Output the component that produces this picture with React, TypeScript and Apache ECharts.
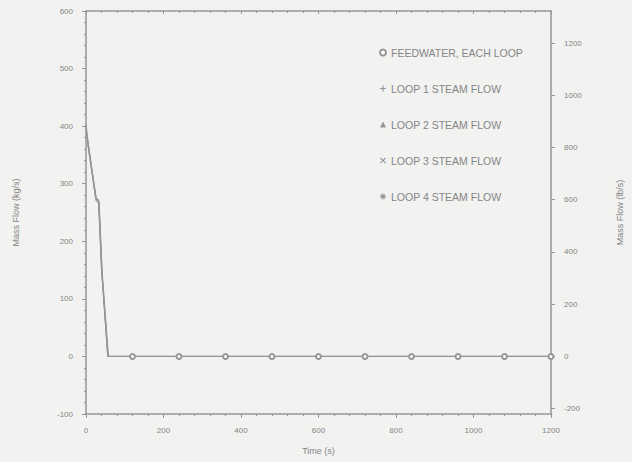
import React, { useEffect, useRef } from "react";
import * as echarts from "echarts";

// ---- data ----
const xTicks = [0, 200, 400, 600, 800, 1000, 1200];
const leftTicks = [-100, 0, 100, 200, 300, 400, 500, 600];
const rightTicks = [-200, 0, 200, 400, 600, 800, 1000, 1200];

const legendNames = [
  "FEEDWATER, EACH LOOP",
  "LOOP 1 STEAM FLOW",
  "LOOP 2 STEAM FLOW",
  "LOOP 3 STEAM FLOW",
  "LOOP 4 STEAM FLOW",
];

const feedTime = [0, 5, 25, 33, 41, 56, 120, 240, 360, 480, 600, 720, 840, 960, 1080, 1200];
const feedFlow = [400, 365, 275, 272, 150, 0, 0, 0, 0, 0, 0, 0, 0, 0, 0, 0];

const loop1Time = [0, 3, 12, 26, 33, 40, 57, 1200];
const loop1Flow = [405, 385, 340, 276, 270, 152, 0, 0];
const loop2Time = [0, 4, 14, 27, 34, 42, 58, 1200];
const loop2Flow = [398, 378, 330, 272, 268, 145, 0, 0];
const loop3Time = [0, 4, 13, 26, 33, 41, 57, 1200];
const loop3Flow = [395, 372, 332, 270, 266, 148, 0, 0];
const loop4Time = [0, 3, 13, 25, 32, 40, 56, 1200];
const loop4Flow = [402, 380, 336, 274, 269, 150, 0, 0];

const KG_TO_LB = 2.20462;

const GRAY = "#858585";
const LINE = "#969696";
const FONT = "Liberation Sans";

const plus = "path://M3.2,0h1.6v8h-1.6z M0,3.2h8v1.6h-8z";
const cross = "path://M0,1.1L1.1,0L4,2.9L6.9,0L8,1.1L5.1,4L8,6.9L6.9,8L4,5.1L1.1,8L0,6.9L2.9,4z";
const star = "path://M3.3,0h1.4v8h-1.4z M0,3.3h8v1.4h-8z M0.6,1.6L1.6,0.6L7.4,6.4L6.4,7.4z M6.4,0.6L7.4,1.6L1.6,7.4L0.6,6.4z";
const icons = ["emptyCircle", plus, "triangle", cross, star];

export default function App() {
  const ref = useRef<HTMLDivElement>(null);
  useEffect(() => {
    const chart = echarts.init(ref.current!, undefined, { renderer: "svg" });
    const zip = (ts: number[], vs: number[]) => ts.map((t, i) => [t, vs[i]]);
    const feedData = feedTime.map((t, i) => ({
      value: [t, feedFlow[i]],
      symbol: t >= 120 ? "emptyCircle" : "none",
    }));
    const loops = [
      zip(loop1Time, loop1Flow),
      zip(loop2Time, loop2Flow),
      zip(loop3Time, loop3Flow),
      zip(loop4Time, loop4Flow),
    ];
    const axisLine = { show: true, onZero: false, lineStyle: { color: LINE, width: 1.5 } };
    const labelStyle = { color: GRAY, fontSize: 8, fontFamily: FONT };
    const plain = (v: number) => String(v);
    chart.setOption({
      animation: false,
      backgroundColor: "#f2f2f1",
      textStyle: { fontFamily: FONT },
      grid: { left: 86, right: 78, top: 11, bottom: 48 },
      legend: {
        orient: "vertical",
        left: 374,
        top: 42,
        itemGap: 25,
        itemWidth: 6,
        itemHeight: 6,
        textStyle: { color: GRAY, fontSize: 10.5, fontFamily: FONT },
        data: legendNames.map((n, i) => ({ name: n, icon: icons[i] })),
        itemStyle: { color: LINE, borderColor: LINE },
      },
      xAxis: [
        {
          type: "value",
          position: "bottom",
          min: xTicks[0],
          max: xTicks[xTicks.length - 1],
          interval: 200,
          name: "Time (s)",
          nameLocation: "middle",
          nameGap: 32,
          nameTextStyle: { color: GRAY, fontSize: 9, fontFamily: FONT },
          axisLine,
          axisTick: { show: true, length: 4, lineStyle: { color: LINE } },
          minorTick: { show: true, splitNumber: 5, length: 2, lineStyle: { color: LINE } },
          axisLabel: { ...labelStyle, margin: 12, formatter: plain },
          splitLine: { show: false },
        },
        {
          type: "value",
          position: "top",
          min: xTicks[0],
          max: xTicks[xTicks.length - 1],
          interval: 200,
          axisLine,
          axisTick: { show: true, inside: true, length: 3, lineStyle: { color: LINE } },
          minorTick: { show: true, splitNumber: 5, length: 2, lineStyle: { color: LINE } },
          axisLabel: { show: false },
          splitLine: { show: false },
        },
      ],
      yAxis: [
        {
          type: "value",
          position: "left",
          min: leftTicks[0],
          max: leftTicks[leftTicks.length - 1],
          interval: 100,
          name: "Mass Flow (kg/s)",
          nameLocation: "middle",
          nameRotate: 90,
          nameGap: 66,
          nameTextStyle: { color: GRAY, fontSize: 9, fontFamily: FONT },
          axisLine,
          axisTick: { show: true, length: 4, lineStyle: { color: LINE } },
          minorTick: { show: true, splitNumber: 5, length: 2, lineStyle: { color: LINE } },
          axisLabel: { ...labelStyle, margin: 13, formatter: plain },
          splitLine: { show: false },
        },
        {
          type: "value",
          position: "right",
          min: leftTicks[0] * KG_TO_LB,
          max: leftTicks[leftTicks.length - 1] * KG_TO_LB,
          name: "Mass Flow (lb/s)",
          nameLocation: "middle",
          nameRotate: 90,
          nameGap: 64,
          nameTextStyle: { color: GRAY, fontSize: 9, fontFamily: FONT },
          axisLine,
          axisTick: {
            show: true,
            length: 4,
            customValues: rightTicks,
            lineStyle: { color: LINE },
          },
          minorTick: { show: false },
          axisLabel: {
            ...labelStyle,
            margin: 13,
            customValues: rightTicks,
            formatter: plain,
          },
          splitLine: { show: false },
        },
      ],
      series: [
        {
          name: legendNames[0],
          type: "line",
          data: feedData,
          symbolSize: 5,
          itemStyle: { color: LINE, borderColor: LINE, borderWidth: 1.2 },
          lineStyle: { color: LINE, width: 1 },
          z: 5,
        },
        ...loops.map((d, i) => ({
          name: legendNames[i + 1],
          type: "line",
          data: d,
          symbol: icons[i + 1],
          showSymbol: false,
          symbolSize: 6,
          itemStyle: { color: LINE, borderColor: LINE },
          lineStyle: { color: LINE, width: 1 },
        })),
      ],
    });
    return () => chart.dispose();
  }, []);
  return (
    <div
      ref={ref}
      style={{ position: "absolute", left: 0, top: 0, width: 632, height: 462 }}
    />
  );
}
